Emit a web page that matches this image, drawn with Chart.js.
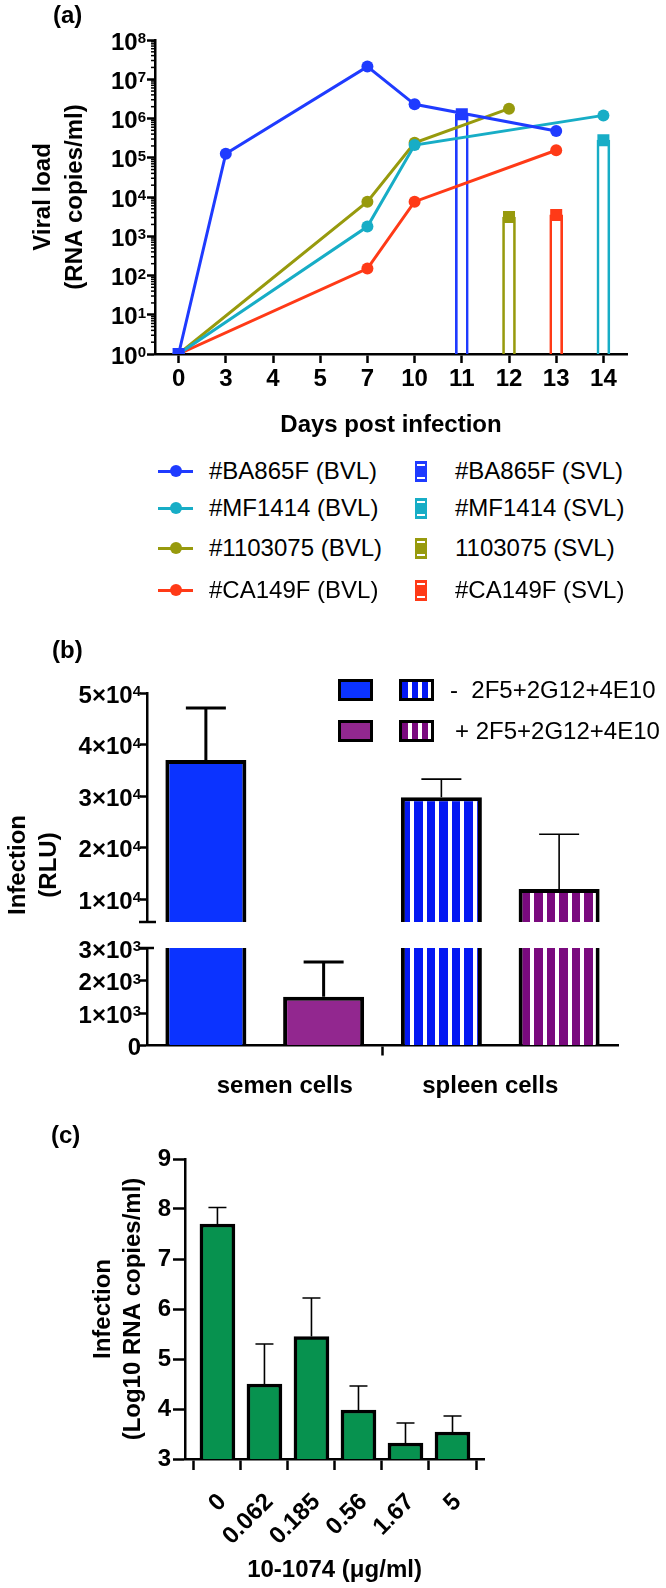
<!DOCTYPE html>
<html>
<head>
<meta charset="utf-8">
<script src="https://cdn.jsdelivr.net/npm/chart.js@4.4.1/dist/chart.umd.min.js"></script>
<style>
  body { margin: 0; background: #fff; }
  #page { position: relative; width: 666px; height: 1588px; overflow: hidden; font-family: "Liberation Sans", Arial, sans-serif; color: #000; }
  canvas { position: absolute; left: 0; }
  .tag { position: absolute; font-weight: bold; font-size: 24px; line-height: 28px; }
  .leg { position: absolute; font-size: 24px; line-height: 28px; white-space: pre; }
  .ytitle { position: absolute; width: 200px; height: 62px; line-height: 31px; text-align: center; font-weight: bold; font-size: 24px; transform: rotate(-90deg); }
</style>
</head>
<body>
<div id="page">
  <canvas id="chartA" width="666" height="445" style="top:0"></canvas>
  <canvas id="chartB1" width="666" height="295" style="top:640px"></canvas>
  <canvas id="chartB2" width="666" height="165" style="top:935px"></canvas>
  <canvas id="chartC" width="666" height="478" style="top:1110px"></canvas>
  <div class="tag" style="left:53px;top:1px">(a)</div>
  <div class="tag" style="left:52px;top:636px">(b)</div>
  <div class="tag" style="left:51px;top:1121px">(c)</div>
  <div id="legendA"></div>
  <div id="legendB"></div>
  <div class="ytitle" style="left:-68.5px;top:834px">Infection<br>(RLU)</div>
</div>
<script>
// ---- (a) viral load, blood (BVL) and semen (SVL)
const days = ['0', '3', '4', '5', '7', '10', '11', '12', '13', '14']
const animals = ['#BA865F', '#MF1414', '#1103075', '#CA149F']
const svlNames = ['#BA865F', '#MF1414', '1103075', '#CA149F']
const bvlBA865F = [1, 1.27e5, null, null, 2.1e7, 2.3e6, null, null, 4.8e5, null]
const bvlMF1414 = [1, null, null, null, 1.76e3, 2.1e5, null, null, null, 1.2e6]
const bvl1103075 = [1, null, null, null, 7.6e3, 2.4e5, null, 1.78e6, null, null]
const bvlCA149F = [1, null, null, null, 1.5e2, 7.6e3, null, null, 1.55e5, null]
const svlBA865F = [1, null, null, null, null, null, 1.28e6, null, null, null]
const svlMF1414 = [null, null, null, null, null, null, null, null, null, 2.8e5]
const svl1103075 = [null, null, null, null, null, null, null, 3.1e3, null, null]
const svlCA149F = [null, null, null, null, null, null, null, null, 3.5e3, null]
const viralExponents = [0, 1, 2, 3, 4, 5, 6, 7, 8]

// ---- (b) infection (RLU)
const cellTypes = ['semen cells', 'spleen cells']
const treatment = '2F5+2G12+4E10'
const rluMinus = [3.7e4, 2.98e4]
const rluMinusErr = [1.01e4, 0.35e4]
const rluPlus = [1.5e3, 1.2e4]
const rluPlusErr = [1.07e3, 1.06e4]
const rluTicksHigh = [1e4, 2e4, 3e4, 4e4, 5e4]
const rluTicksLow = [0, 1e3, 2e3, 3e3]
const rluBreakLow = 3000
const rluBreakHigh = 5580

// ---- (c) 10-1074 titration
const doses = ['0', '0.062', '0.185', '0.56', '1.67', '5']
const logCopies = [7.7, 4.5, 5.45, 3.98, 3.32, 3.54]
const logCopiesErr = [0.33, 0.8, 0.77, 0.48, 0.4, 0.32]

Chart.defaults.font.family = '"Liberation Sans", Arial, sans-serif'
Chart.defaults.color = '#000'
Chart.defaults.animation = false

const black = '#000'
const clear = 'rgba(0,0,0,0)'
const bold = (size, lh) => ({ size: size, weight: 'bold', lineHeight: lh || 1.2 })
const isDecade = v => v > 0 && Math.abs(Math.log10(v) - Math.round(Math.log10(v))) < 1e-9

// tick labels with a real superscript (10^n, k×10^n)
const expLabels = {
  id: 'expLabels',
  afterDraw(chart, args, opts) {
    if (!opts.items) return
    const s = chart.scales[opts.scale]
    const ctx = chart.ctx
    ctx.save()
    ctx.fillStyle = black
    opts.items.forEach(it => {
      const y = s.getPixelForValue(it.value)
      const right = s.right - opts.gap
      ctx.font = 'bold ' + opts.supSize + 'px "Liberation Sans", Arial, sans-serif'
      const w = it.sup ? ctx.measureText(it.sup).width : 0
      ctx.font = 'bold ' + opts.size + 'px "Liberation Sans", Arial, sans-serif'
      ctx.textAlign = 'right'
      ctx.textBaseline = 'middle'
      ctx.fillText(it.base, right - w, y + 3)
      if (it.sup) {
        ctx.font = 'bold ' + opts.supSize + 'px "Liberation Sans", Arial, sans-serif'
        ctx.textAlign = 'left'
        ctx.textBaseline = 'alphabetic'
        ctx.fillText(it.sup, right - w, y + 3)
      }
    })
    ctx.restore()
  }
}

// short extra marks on a left axis (minor log ticks, break caps)
const axisMarks = {
  id: 'axisMarks',
  afterDraw(chart, args, opts) {
    if (!opts.marks) return
    const ctx = chart.ctx
    ctx.save()
    ctx.strokeStyle = black
    opts.marks.forEach(m => {
      const s = chart.scales[m.scale]
      ctx.lineWidth = m.width
      m.values.forEach(v => {
        const y = s.getPixelForValue(v)
        ctx.beginPath()
        ctx.moveTo(s.right + m.from, y)
        ctx.lineTo(s.right + m.to, y)
        ctx.stroke()
      })
    })
    ctx.restore()
  }
}

// one sided error bars (mean + SD)
const errorBars = {
  id: 'errorBars',
  afterDatasetsDraw(chart, args, opts) {
    if (!opts.sets) return
    const ctx = chart.ctx
    const y = chart.scales.y
    ctx.save()
    ctx.strokeStyle = black
    opts.sets.forEach(set => {
      const meta = chart.getDatasetMeta(set.dataset)
      set.values.forEach((v, i) => {
        const bar = meta.data[i]
        if (!bar || v == null || v < y.min || v > y.max) return
        const yTop = y.getPixelForValue(v)
        const yErr = y.getPixelForValue(v + set.errors[i])
        ctx.lineWidth = set.widths[i]
        ctx.beginPath()
        ctx.moveTo(bar.x, yTop)
        ctx.lineTo(bar.x, yErr)
        ctx.moveTo(bar.x - set.cap / 2, yErr)
        ctx.lineTo(bar.x + set.cap / 2, yErr)
        ctx.stroke()
      })
    })
    ctx.restore()
  }
}

// ================= (a)
const colorsA = ['#1f3bff', '#17adc6', '#979a0d', '#ff3a17']
const bvlSeries = [bvlBA865F, bvlMF1414, bvl1103075, bvlCA149F]
const svlSeries = [svlBA865F, svlMF1414, svl1103075, svlCA149F]

const viralTickValues = []
for (let e = 0; e < 8; e++) {
  for (let k = 1; k < 10; k++) viralTickValues.push(k * Math.pow(10, e))
}
viralTickValues.push(1e8)

const datasetsA = []
svlSeries.forEach((d, i) => {
  datasetsA.push({ type: 'bar', label: svlNames[i] + ' (SVL)', data: d, backgroundColor: clear,
    borderColor: colorsA[i], borderWidth: 2, barThickness: 13, grouped: false, order: 3 })
})
bvlSeries.forEach((d, i) => {
  datasetsA.push({ type: 'line', label: animals[i] + ' (BVL)', data: d, borderColor: colorsA[i],
    backgroundColor: colorsA[i], borderWidth: 3, pointRadius: 6, pointBorderWidth: 0, spanGaps: true, order: 2 })
})
svlSeries.forEach((d, i) => {
  datasetsA.push({ type: 'line', label: svlNames[i], data: d, showLine: false, pointStyle: 'rect',
    pointRadius: 8.5, pointBorderWidth: 0, backgroundColor: colorsA[i], borderColor: colorsA[i], order: 1 })
})

new Chart(document.getElementById('chartA'), {
  type: 'bar',
  data: { labels: days, datasets: datasetsA },
  options: {
    responsive: false,
    devicePixelRatio: 1,
    layout: { padding: { top: 40, right: 39, left: 0, bottom: 0 } },
    plugins: {
      legend: { display: false },
      tooltip: { enabled: false },
      expLabels: { scale: 'y', gap: 9, size: 24, supSize: 15,
        items: viralExponents.map(e => ({ value: Math.pow(10, e), base: '10', sup: String(e) })) },
      axisMarks: { marks: [{ scale: 'y', values: viralTickValues.filter(v => !isDecade(v)), from: -4, to: 0, width: 1.5 }] }
    },
    scales: {
      x: {
        type: 'category', offset: true,
        grid: { offset: false, drawOnChartArea: false, tickLength: 9, tickWidth: 2.5, tickColor: black },
        border: { color: black, width: 2.5 },
        ticks: { font: bold(24), padding: 2, maxRotation: 0, autoSkip: false },
        title: { display: true, text: 'Days post infection', font: bold(24), padding: { top: 0, bottom: 5.6 } },
        afterFit: s => { s.height = 91 }
      },
      y: {
        type: 'logarithmic', min: 1, max: 1e8,
        afterBuildTicks: s => { s.ticks = viralTickValues.map(v => ({ value: v })) },
        ticks: { autoSkip: false, callback: () => '' },
        grid: { drawOnChartArea: false, tickLength: 8, tickWidth: 2.5,
          tickColor: c => (c.tick && isDecade(c.tick.value)) ? black : clear },
        border: { color: black, width: 2.5 },
        title: { display: true, text: ['Viral load', '(RNA copies/ml)'], font: bold(24, 1.333), padding: { top: 27, bottom: 0 } },
        afterFit: s => { s.width = 155 }
      }
    }
  },
  plugins: [expLabels, axisMarks]
})

// legend (a)
const legendA = document.getElementById('legendA')
const rowsA = [471, 508, 548, 590]
animals.forEach((name, i) => {
  const y = rowsA[i]
  const c = colorsA[i]
  legendA.insertAdjacentHTML('beforeend',
    '<div style="position:absolute;left:158px;top:' + (y - 1.5) + 'px;width:35px;height:3px;background:' + c + '"></div>' +
    '<div style="position:absolute;left:170px;top:' + (y - 6) + 'px;width:12px;height:12px;border-radius:6px;background:' + c + '"></div>' +
    '<div class="leg" style="left:209px;top:' + (y - 14) + 'px">' + name + ' (BVL)</div>' +
    '<div style="position:absolute;left:415px;top:' + (y - 10) + 'px;width:12px;height:21px;background:' + c + '">' +
      '<div style="position:absolute;left:2px;right:2px;top:3px;height:2px;background:#fff"></div>' +
      '<div style="position:absolute;left:2px;right:2px;bottom:3px;height:2px;background:#fff"></div></div>' +
    '<div class="leg" style="left:455px;top:' + (y - 14) + 'px">' + svlNames[i] + ' (SVL)</div>')
})

// ================= (b)
const blueB = '#0b33ff'
const purpleB = '#92278f'
function stripes(color, shift) {
  const cv = document.createElement('canvas')
  cv.width = 25
  cv.height = 4
  const g = cv.getContext('2d')
  g.fillStyle = '#fff'
  g.fillRect(0, 0, 25, 4)
  g.fillStyle = color
  g.fillRect(0, 0, 8, 4)
  g.fillRect(12, 0, 9, 4)
  const p = g.createPattern(cv, 'repeat')
  p.setTransform(new DOMMatrix().translate(shift, 0))
  return p
}
const blueStripes = stripes('#0418f2', 2)
const purpleStripes = stripes('#7a0a7e', 22)

const barStyleB = { categoryPercentage: 1.0, barPercentage: 0.688, borderColor: black, borderSkipped: false }
const errSetsB = [
  { dataset: 0, values: rluMinus, errors: rluMinusErr, widths: [3, 1.6], cap: 40 },
  { dataset: 1, values: rluPlus, errors: rluPlusErr, widths: [3, 1.6], cap: 40 }
]
const yCommonB = {
  grid: { drawOnChartArea: false, tickLength: 7, tickWidth: 2.5, tickColor: black },
  border: { color: black, width: 2.5 },
  ticks: { autoSkip: false, callback: () => '' },
  afterFit: s => { s.width = 147 }
}
const expItems = vals => vals.map(v => {
  if (v === 0) return { value: 0, base: '0', sup: '' }
  const e = Math.floor(Math.log10(v) + 1e-9)
  return { value: v, base: Math.round(v / Math.pow(10, e)) + '×10', sup: String(e) }
})

new Chart(document.getElementById('chartB1'), {
  type: 'bar',
  data: {
    labels: cellTypes,
    datasets: [
      Object.assign({ label: '- ' + treatment, data: rluMinus.map(v => v > rluBreakHigh ? [rluBreakHigh, v] : null),
        backgroundColor: [blueB, blueStripes], borderWidth: { top: 4, left: 4, right: 4, bottom: 0 } }, barStyleB),
      Object.assign({ label: '+ ' + treatment, data: rluPlus.map(v => v > rluBreakHigh ? [rluBreakHigh, v] : null),
        backgroundColor: [purpleB, purpleStripes], borderWidth: { top: 4, left: 4, right: 4, bottom: 0 } }, barStyleB)
    ]
  },
  options: {
    responsive: false,
    devicePixelRatio: 1,
    layout: { padding: { top: 53, right: 48, left: 0, bottom: 13 } },
    plugins: {
      legend: { display: false },
      tooltip: { enabled: false },
      errorBars: { sets: errSetsB },
      expLabels: { scale: 'y', gap: 6, size: 24, supSize: 15, items: expItems(rluTicksHigh) },
      axisMarks: { marks: [{ scale: 'y', values: [rluBreakHigh], from: -8, to: 9, width: 2.5 }] }
    },
    scales: {
      x: { type: 'category', offset: true, display: false },
      y: Object.assign({ min: rluBreakHigh, max: 5e4, afterBuildTicks: s => { s.ticks = rluTicksHigh.map(v => ({ value: v })) } }, yCommonB)
    }
  },
  plugins: [errorBars, expLabels, axisMarks]
})

// category labels sit a little toward the middle of the axis, as in the original
const cellLabel = (v, i) => i === 0 ? '      ' + cellTypes[0] : cellTypes[1] + '   '
const lowBorder = vals => c => ({ top: vals[c.dataIndex] > rluBreakLow ? 0 : 4, left: 4, right: 4, bottom: 0 })
new Chart(document.getElementById('chartB2'), {
  type: 'bar',
  data: {
    labels: cellTypes,
    datasets: [
      Object.assign({ label: '- ' + treatment, data: rluMinus.map(v => Math.min(v, rluBreakLow)),
        backgroundColor: [blueB, blueStripes], borderWidth: lowBorder(rluMinus) }, barStyleB),
      Object.assign({ label: '+ ' + treatment, data: rluPlus.map(v => Math.min(v, rluBreakLow)),
        backgroundColor: [purpleB, purpleStripes], borderWidth: lowBorder(rluPlus) }, barStyleB)
    ]
  },
  options: {
    responsive: false,
    devicePixelRatio: 1,
    layout: { padding: { top: 13, right: 48, left: 0, bottom: 0 } },
    plugins: {
      legend: { display: false },
      tooltip: { enabled: false },
      errorBars: { sets: errSetsB },
      expLabels: { scale: 'y', gap: 6, size: 24, supSize: 15, items: expItems(rluTicksLow) },
      axisMarks: { marks: [{ scale: 'y', values: [rluBreakLow], from: -7, to: 7, width: 2.5 }] }
    },
    scales: {
      x: {
        type: 'category', offset: true,
        grid: { offset: true, drawOnChartArea: false, tickLength: 10, tickWidth: 2.5,
          tickColor: c => c.index === 1 ? black : clear },
        border: { color: black, width: 2.5 },
        ticks: { font: bold(24), padding: 16, maxRotation: 0, callback: cellLabel },
        afterFit: s => { s.height = 54.5 }
      },
      y: Object.assign({ min: 0, max: rluBreakLow, afterBuildTicks: s => { s.ticks = rluTicksLow.map(v => ({ value: v })) } }, yCommonB)
    }
  },
  plugins: [errorBars, expLabels, axisMarks]
})

// legend (b)
const legendB = document.getElementById('legendB')
const rowsB = [690, 731]
const legFills = [[blueB, '#0418f2'], [purpleB, '#7a0a7e']]
;['-', '+'].forEach((sign, i) => {
  const y = rowsB[i]
  const f = legFills[i]
  legendB.insertAdjacentHTML('beforeend',
    '<div style="position:absolute;box-sizing:border-box;left:338px;top:' + (y - 11) + 'px;width:35px;height:22px;border:3.5px solid #000;background:' + f[0] + '"></div>' +
    '<div style="position:absolute;box-sizing:border-box;left:399px;top:' + (y - 11) + 'px;width:35px;height:22px;border:3.5px solid #000;background:repeating-linear-gradient(90deg,' + f[1] + ' 0 6px,#fff 6px 10px)"></div>' +
    '<div class="leg" style="left:' + (sign === '-' ? 450 : 455) + 'px;top:' + (y - 14) + 'px">' + sign + (sign === '-' ? '  ' : ' ') + treatment + '</div>')
})

// ================= (c)
new Chart(document.getElementById('chartC'), {
  type: 'bar',
  data: {
    datasets: [{
      label: '10-1074',
      data: logCopies.map((v, i) => ({ x: i, y: v })),
      backgroundColor: '#07924f',
      borderColor: black,
      borderWidth: 3.5,
      barThickness: 35
    }]
  },
  options: {
    responsive: false,
    devicePixelRatio: 1,
    layout: { padding: { top: 49, right: 182, left: 0, bottom: 0 } },
    plugins: {
      legend: { display: false },
      tooltip: { enabled: false },
      errorBars: { sets: [{ dataset: 0, values: logCopies, errors: logCopiesErr, widths: logCopies.map(() => 1.6), cap: 18 }] }
    },
    scales: {
      x: {
        type: 'linear', offset: false, min: -0.69, max: 5.67,
        afterBuildTicks: s => { s.ticks = doses.map((d, i) => ({ value: i })) },
        ticks: { autoSkip: false, maxRotation: 45, minRotation: 45, font: bold(24), padding: 18, labelOffset: 5, callback: v => doses[v] },
        grid: { drawOnChartArea: false, tickLength: 11, tickWidth: 2.5, tickColor: black },
        border: { color: black, width: 2.5 },
        title: { display: true, text: '10-1074 (μg/ml)', font: bold(24), padding: { top: 0, bottom: 3.6 } },
        afterFit: s => { s.height = 129 }
      },
      y: {
        min: 3, max: 9,
        ticks: { stepSize: 1, font: bold(24), padding: 2 },
        grid: { drawOnChartArea: false, tickLength: 12, tickWidth: 2.5, tickColor: black },
        border: { color: black, width: 2.5 },
        title: { display: true, text: ['Infection', '(Log10 RNA copies/ml)'], font: bold(24, 1.25), padding: { top: 88, bottom: 0 } },
        afterFit: s => { s.width = 185 }
      }
    }
  },
  plugins: [errorBars]
})
</script>
</body>
</html>
